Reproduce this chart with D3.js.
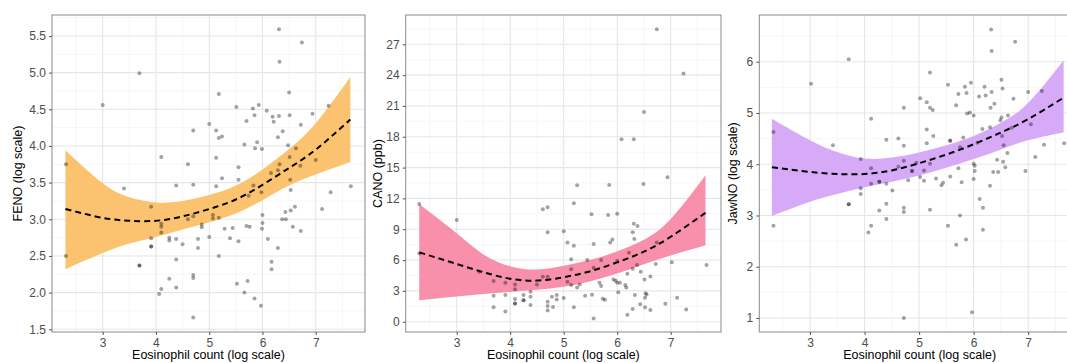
<!DOCTYPE html>
<html><head><meta charset="utf-8">
<script src="https://cdn.jsdelivr.net/npm/d3@7"></script>
<style>
html,body{margin:0;padding:0;background:#fff;}
svg{display:block;font-family:"Liberation Sans",Arial,Helvetica,sans-serif;}
</style></head>
<body><svg id="chart" width="1067" height="363"></svg>
<script>
// ---------- data ----------
const xTicks = [3, 4, 5, 6, 7];
const xTitle = "Eosinophil count (log scale)";
const fitX = [2.3, 3, 3.5, 4, 4.5, 5, 5.5, 6, 6.5, 7, 7.65];

const fenoTicks = [1.5, 2.0, 2.5, 3.0, 3.5, 4.0, 4.5, 5.0, 5.5];
const fenoFit = [3.14, 3.02, 2.98, 2.98, 3.04, 3.14, 3.27, 3.47, 3.70, 3.95, 4.36];
const fenoLo  = [2.32, 2.54, 2.67, 2.76, 2.86, 2.96, 3.08, 3.26, 3.46, 3.61, 3.78];
const fenoHi  = [3.94, 3.49, 3.30, 3.23, 3.25, 3.33, 3.46, 3.68, 3.96, 4.31, 4.94];
const fenoPoints = [
 [2.31,3.75],[2.31,2.5],[3.0,4.56],[3.40,3.42],[3.69,4.99],[3.69,2.37],[3.69,2.37],[3.91,3.17],[3.91,2.74],[3.91,2.63],[3.91,2.63],
 [4.10,3.85],[4.10,2.94],[4.10,2.90],[4.10,2.82],[4.06,1.98],[4.10,2.05],[4.25,2.75],[4.25,2.71],[4.25,2.19],
 [4.38,3.46],[4.38,2.73],[4.38,2.45],[4.38,2.07],[4.50,2.66],[4.60,3.75],[4.60,3.0],[4.70,4.21],[4.70,3.47],
 [4.70,3.04],[4.70,2.24],[4.70,2.20],[4.70,1.66],[4.79,2.73],[4.79,2.61],[4.86,2.93],[4.86,2.89],[5.0,4.30],
 [5.0,2.76],[5.07,3.06],[5.07,3.01],[5.13,4.21],[5.13,3.84],[5.13,3.45],[5.18,4.71],[5.18,4.11],[5.24,4.13],
 [5.18,3.02],[5.18,2.50],[5.24,3.56],[5.29,2.87],[5.39,2.74],[5.44,2.88],[5.51,4.53],[5.52,2.12],[5.55,3.71],
 [5.55,3.54],[5.55,2.70],[5.66,4.02],[5.66,2.0],[5.70,4.34],[5.70,2.91],[5.72,2.16],[5.76,2.90],[5.74,3.32],
 [5.82,4.51],[5.85,4.42],[5.85,1.92],[5.86,3.97],[5.90,4.05],[5.93,4.56],[5.99,3.96],[5.97,1.82],[5.98,3.37],
 [5.99,2.87],[6.0,3.06],[6.0,2.95],[6.08,4.48],[6.10,2.73],[6.17,2.42],[6.17,2.32],[6.19,4.40],[6.21,4.33],
 [6.29,4.12],[6.31,4.41],[6.31,5.59],[6.32,5.15],[6.32,3.75],[6.29,2.61],[6.38,4.20],[6.37,3.0],[6.43,3.10],
 [6.44,3.0],[6.48,4.01],[6.50,4.73],[6.51,4.42],[6.51,3.85],[6.52,3.54],[6.53,3.40],[6.53,3.12],[6.57,2.90],
 [6.61,3.17],[6.63,3.97],[6.72,4.29],[6.74,5.41],[6.71,3.73],[6.72,2.84],[6.94,4.44],[7.0,3.81],[7.12,3.14],
 [7.24,4.55],[7.28,3.37],[7.66,3.45],[5.83,3.46],[6.16,3.63],[6.29,3.67]
];

const canoTicks = [0, 3, 6, 9, 12, 15, 18, 21, 24, 27];
const canoFit = [6.75, 5.62, 4.82, 4.18, 4.00, 4.33, 4.92, 5.78, 6.82, 8.27, 10.60];
const canoLo  = [2.10, 2.45, 2.70, 2.90, 3.10, 3.40, 3.95, 4.70, 5.60, 6.45, 7.45];
const canoHi  = [11.46, 8.60, 6.55, 5.40, 5.08, 5.45, 6.02, 6.85, 7.98, 10.0, 14.25];
const canoPoints = [
 [2.30,11.46],[2.30,6.65],[3.0,9.9],[3.42,4.87],[3.69,3.96],[3.69,2.53],[3.69,1.40],[3.91,3.80],[3.91,2.6],
 [3.91,1.0],[4.09,3.63],[4.09,3.15],[4.09,2.2],[4.09,1.78],[4.09,1.78],[4.25,2.6],[4.25,2.08],[4.25,2.08],
 [4.38,2.92],[4.38,2.43],[4.38,1.62],[4.50,3.63],[4.61,10.94],[4.70,11.13],[4.70,8.70],[4.70,4.38],[4.61,4.38],
 [4.70,1.95],[4.70,1.52],[4.70,1.10],[4.80,1.43],[4.78,2.43],[4.87,2.6],[4.87,2.17],[5.0,8.80],[5.0,2.3],
 [5.07,7.72],[5.07,3.9],[5.14,6.07],[5.14,5.1],[5.14,3.57],[5.19,11.52],[5.19,7.40],[5.19,1.40],[5.25,13.28],
 [5.25,3.34],[5.30,3.63],[5.44,6.0],[5.40,2.53],[5.52,10.45],[5.53,2.63],[5.56,7.56],[5.56,5.26],[5.56,0.32],
 [5.67,3.8],[5.70,6.0],[5.70,3.47],[5.73,2.24],[5.77,2.14],[5.83,10.39],[5.85,13.3],[5.87,7.7],[5.91,8.0],
 [5.93,4.12],[5.97,3.99],[6.0,10.5],[6.0,3.8],[6.02,2.86],[6.05,3.8],[6.0,5.94],[6.08,17.75],[6.31,17.75],
 [6.15,3.57],[6.17,3.34],[6.19,4.67],[6.19,0.68],[6.22,6.72],[6.29,8.70],[6.31,9.54],[6.32,8.05],[6.38,9.31],
 [6.29,5.16],[6.33,2.6],[6.29,1.23],[6.37,5.52],[6.43,1.69],[6.44,4.87],[6.50,20.42],[6.49,13.40],[6.51,4.12],
 [6.52,2.34],[6.53,2.76],[6.55,2.66],[6.52,1.40],[6.62,4.41],[6.62,1.14],[6.72,5.61],[6.74,7.72],[6.74,28.46],
 [6.90,1.75],[6.94,14.05],[7.02,5.78],[7.12,2.34],[7.24,24.15],[7.29,1.20],[7.67,5.52]
];

const jawTicks = [1, 2, 3, 4, 5, 6];
const jawFit = [3.94, 3.85, 3.81, 3.81, 3.88, 4.02, 4.19, 4.39, 4.62, 4.88, 5.30];
const jawLo  = [2.99, 3.27, 3.42, 3.55, 3.66, 3.78, 3.93, 4.10, 4.29, 4.47, 4.62];
const jawHi  = [4.89, 4.47, 4.24, 4.11, 4.13, 4.23, 4.37, 4.55, 4.81, 5.20, 6.03];
const jawPoints = [
 [2.33,4.63],[2.33,2.80],[3.02,5.57],[3.42,4.37],[3.71,6.05],[3.71,3.22],[3.71,3.22],[3.93,4.10],[3.93,3.53],
 [3.93,3.42],[4.12,4.89],[4.12,3.92],[4.12,3.62],[4.07,2.67],[4.12,2.80],[4.27,3.66],[4.27,3.66],[4.27,3.10],
 [4.40,4.48],[4.40,3.62],[4.40,3.23],[4.40,2.93],[4.51,3.49],[4.62,4.50],[4.62,3.95],[4.72,5.10],[4.72,4.36],
 [4.72,4.07],[4.72,3.15],[4.72,3.07],[4.72,1.0],[4.80,3.69],[4.87,3.87],[4.87,3.87],[4.95,4.03],[5.02,5.29],
 [5.02,3.75],[5.09,3.68],[5.09,3.88],[5.14,5.21],[5.14,4.68],[5.14,4.41],[5.20,5.79],[5.20,5.10],[5.25,5.06],
 [5.20,3.11],[5.20,4.01],[5.26,4.55],[5.31,3.72],[5.41,3.59],[5.44,3.64],[5.53,5.55],[5.57,4.46],[5.57,4.46],
 [5.57,3.76],[5.53,2.80],[5.68,5.15],[5.68,2.43],[5.72,5.37],[5.72,3.92],[5.75,4.33],[5.75,3.0],[5.78,3.65],
 [5.84,5.51],[5.87,5.39],[5.86,2.53],[5.88,4.99],[5.93,5.01],[5.95,5.59],[5.81,4.52],[5.97,1.11],[6.0,4.95],
 [6.0,4.01],[6.02,3.97],[6.02,3.87],[6.0,3.71],[6.10,5.32],[6.07,4.42],[6.11,3.32],[6.17,3.15],[6.17,2.72],
 [6.20,5.51],[6.22,5.34],[6.16,4.69],[6.32,6.63],[6.33,6.21],[6.33,5.41],[6.31,5.10],[6.30,4.72],[6.30,3.58],
 [6.38,5.18],[6.36,3.85],[6.45,3.85],[6.43,4.09],[6.51,5.65],[6.53,5.48],[6.49,4.86],[6.51,4.91],[6.52,4.55],
 [6.55,4.37],[6.54,4.05],[6.58,3.94],[6.62,4.22],[6.63,4.95],[6.73,5.28],[6.70,4.71],[6.76,6.39],[6.95,3.87],
 [7.0,5.41],[7.05,4.78],[7.13,4.14],[7.25,5.43],[7.29,4.38],[7.66,4.41]
];

// ---------- panels ----------
const panels = [
  {left:52, right:365, xDom:[2.048,7.925], yDom:[1.463,5.786], yTicks:fenoTicks, fmt:d3.format(".1f"),
   title:"FENO (log scale)", titleX:18, pts:fenoPoints, fit:fenoFit, lo:fenoLo, hi:fenoHi, fill:"#fbc370"},
  {left:405.7, right:721, xDom:[2.047,7.94], yDom:[-1.0,29.85], yTicks:canoTicks, fmt:d3.format("d"),
   title:"CANO (ppb)", titleX:378, pts:canoPoints, fit:canoFit, lo:canoLo, hi:canoHi, fill:"#f890ab"},
  {left:759.3, right:1080, xDom:[2.07,7.95], yDom:[0.727,6.912], yTicks:jawTicks, fmt:d3.format("d"),
   title:"JawNO (log scale)", titleX:733, pts:jawPoints, fit:jawFit, lo:jawLo, hi:jawHi, fill:"#d6aaf7"}
];
const plotTop = 15, plotBottom = 332;
const svg = d3.select("#chart");
const font = "\"Liberation Sans\",Arial,Helvetica,sans-serif";

panels.forEach((p, i) => {
  const x = d3.scaleLinear().domain(p.xDom).range([p.left, p.right]);
  const y = d3.scaleLinear().domain(p.yDom).range([plotBottom, plotTop]);
  const g = svg.append("g");
  const clipId = "clip" + i;
  svg.append("clipPath").attr("id", clipId).append("rect")
    .attr("x", p.left).attr("y", plotTop).attr("width", p.right - p.left).attr("height", plotBottom - plotTop);
  const inner = g.append("g").attr("clip-path", `url(#${clipId})`);

  // minor grid
  const xMinor = d3.range(2.5, 8.01, 1);
  const ystep = p.yTicks[1] - p.yTicks[0];
  const yMinor = p.yTicks.map(t => t + ystep / 2).concat([p.yTicks[0] - ystep / 2]);
  inner.selectAll(".xm").data(xMinor).join("line")
    .attr("x1", d => x(d)).attr("x2", d => x(d)).attr("y1", plotTop).attr("y2", plotBottom)
    .attr("stroke", "#f0f0f0").attr("stroke-width", 0.6);
  inner.selectAll(".ym").data(yMinor).join("line")
    .attr("y1", d => y(d)).attr("y2", d => y(d)).attr("x1", p.left).attr("x2", p.right)
    .attr("stroke", "#f0f0f0").attr("stroke-width", 0.6);
  // major grid
  inner.selectAll(".xg").data(xTicks).join("line")
    .attr("x1", d => x(d)).attr("x2", d => x(d)).attr("y1", plotTop).attr("y2", plotBottom)
    .attr("stroke", "#e6e6e6").attr("stroke-width", 1.1);
  inner.selectAll(".yg").data(p.yTicks).join("line")
    .attr("y1", d => y(d)).attr("y2", d => y(d)).attr("x1", p.left).attr("x2", p.right)
    .attr("stroke", "#e6e6e6").attr("stroke-width", 1.1);

  // band
  const bandData = fitX.map((v, k) => ({x: v, lo: p.lo[k], hi: p.hi[k], f: p.fit[k]}));
  inner.append("path").datum(bandData)
    .attr("d", d3.area().x(d => x(d.x)).y0(d => y(d.lo)).y1(d => y(d.hi)).curve(d3.curveNatural))
    .attr("fill", p.fill);

  // points
  inner.selectAll(".pt").data(p.pts).join("circle")
    .attr("cx", d => x(d[0])).attr("cy", d => y(d[1])).attr("r", 2)
    .attr("fill", "#000").attr("fill-opacity", 0.36);

  // fit line
  inner.append("path").datum(bandData)
    .attr("d", d3.line().x(d => x(d.x)).y(d => y(d.f)).curve(d3.curveNatural))
    .attr("fill", "none").attr("stroke", "#000").attr("stroke-width", 2)
    .attr("stroke-dasharray", "6,4");

  // border
  g.append("rect").attr("x", p.left).attr("y", plotTop).attr("width", p.right - p.left).attr("height", plotBottom - plotTop)
    .attr("fill", "none").attr("stroke", "#8a8a8a").attr("stroke-width", 1);

  // axes
  const xa = g.append("g").attr("transform", `translate(0,${plotBottom})`)
    .call(d3.axisBottom(x).tickValues(xTicks).tickSize(3).tickPadding(3).tickFormat(d3.format("d")));
  const ya = g.append("g").attr("transform", `translate(${p.left},0)`)
    .call(d3.axisLeft(y).tickValues(p.yTicks).tickSize(3).tickPadding(3).tickFormat(p.fmt));
  [xa, ya].forEach(a => {
    a.select(".domain").remove();
    a.selectAll(".tick line").attr("stroke", "#555");
    a.selectAll(".tick text").attr("fill", "#4d4d4d").style("font-size", "12px").style("font-family", font);
  });

  // titles
  g.append("text").attr("x", (p.left + p.right) / 2).attr("y", 359)
    .attr("text-anchor", "middle").style("font-size", "12.5px").style("font-family", font)
    .attr("fill", "#000").text(xTitle);
  g.append("text").attr("transform", `translate(${p.titleX},${(plotTop + plotBottom) / 2}) rotate(-90)`)
    .attr("text-anchor", "middle").attr("dy", "0.35em").style("font-size", "12.5px").style("font-family", font)
    .attr("fill", "#000").text(p.title);
});
</script></body></html>
